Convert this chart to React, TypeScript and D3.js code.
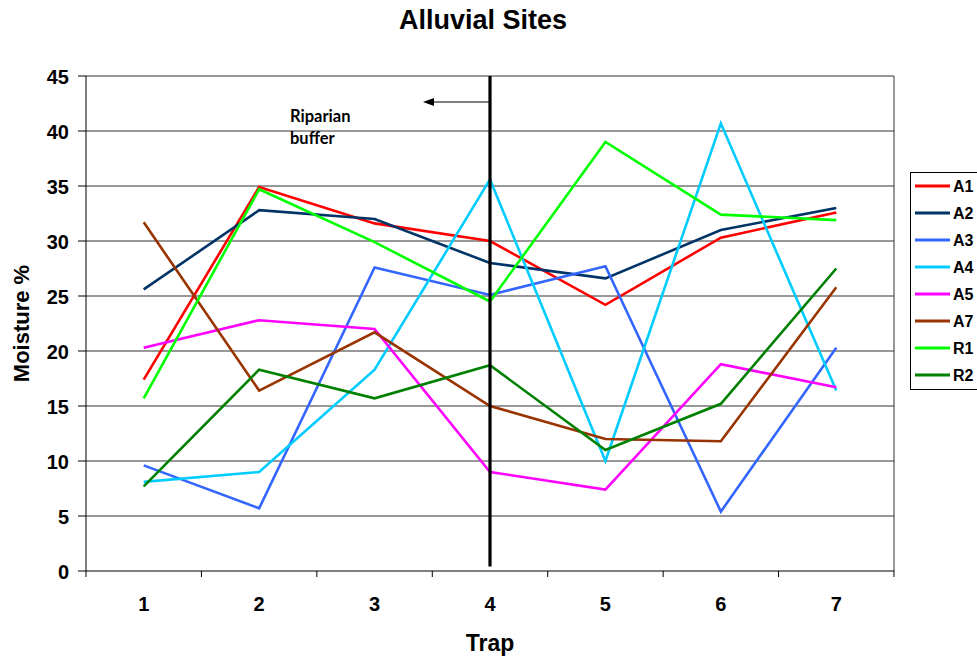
import React from "react";
import * as d3 from "d3";

// Trap positions along the transect
const traps = ["1", "2", "3", "4", "5", "6", "7"];

// Soil moisture (%) per site at each trap
const seriesNames = ["A1", "A2", "A3", "A4", "A5", "A7", "R1", "R2"];
const A1 = [17.4, 34.9, 31.6, 30.0, 24.2, 30.3, 32.6];
const A2 = [25.6, 32.8, 32.0, 28.0, 26.6, 31.0, 33.0];
const A3 = [9.6, 5.7, 27.6, 25.1, 27.7, 5.4, 20.3];
const A4 = [8.1, 9.0, 18.3, 35.6, 10.0, 40.7, 16.4];
const A5 = [20.3, 22.8, 22.0, 9.0, 7.4, 18.8, 16.7];
const A7 = [31.7, 16.4, 21.7, 15.0, 12.0, 11.8, 25.8];
const R1 = [15.7, 34.7, 29.9, 24.5, 39.0, 32.4, 31.9];
const R2 = [7.7, 18.3, 15.7, 18.7, 11.0, 15.2, 27.5];
const seriesValues = [A1, A2, A3, A4, A5, A7, R1, R2];
const seriesColors = ["#FF0000", "#003366", "#3366FF", "#00CCFF", "#FF00FF", "#993300", "#00FF00", "#008000"];

// Y axis ticks
const yTicks = [0, 5, 10, 15, 20, 25, 30, 35, 40, 45];

// Riparian buffer boundary marker (trap, from, to)
const bufferTrap = "4";
const bufferRange = [0.4, 45];

const W = 977;
const H = 658;
const margin = { left: 86, right: 83, top: 76, bottom: 87 };

export default function App() {
  const x = d3
    .scaleBand<string>()
    .domain(traps)
    .range([margin.left, W - margin.right])
    .paddingInner(0)
    .paddingOuter(0);
  const y = d3.scaleLinear().domain([0, 45]).range([H - margin.bottom, margin.top]);
  const cx = (t: string) => (x(t) as number) + x.bandwidth() / 2;

  const line = d3
    .line<number>()
    .x((_, i) => cx(traps[i]))
    .y((d) => y(d));

  const font = "'Liberation Sans', Arial, sans-serif";
  const noteFont = "Lato, 'Open Sans', sans-serif";
  const x0 = margin.left;
  const x1 = W - margin.right;
  const yBase = y(0);

  const bx = cx(bufferTrap);
  const arrowY = 102;
  const arrowTip = 423;

  const legendX = 910;
  const legendY = 172;
  const legendRow = 27;

  return (
    <svg
      width={W}
      height={H}
      style={{ position: "absolute", left: 0, top: 0, background: "#fff" }}
      fontFamily={font}
    >
      <rect x={0} y={0} width={W} height={H} fill="#fff" />
      {/* title */}
      <text x={483} y={29} textAnchor="middle" fontSize={27} fontWeight="bold">
        Alluvial Sites
      </text>

      {/* gridlines */}
      {yTicks
        .filter((t) => t > 0)
        .map((t) => (
          <line key={t} x1={x0} x2={x1} y1={y(t)} y2={y(t)} stroke="#333" strokeWidth={1} />
        ))}
      {/* right border */}
      <line x1={x1} x2={x1} y1={y(45)} y2={yBase} stroke="#333" strokeWidth={1} />

      {/* axes */}
      <line x1={x0} x2={x0} y1={y(45)} y2={yBase} stroke="#000" strokeWidth={1} />
      <line x1={x0} x2={x1} y1={yBase} y2={yBase} stroke="#000" strokeWidth={1} />
      {yTicks.map((t) => (
        <g key={t}>
          <line x1={x0 - 8} x2={x0} y1={y(t)} y2={y(t)} stroke="#000" />
          <text x={x0 - 17} y={y(t) + 7.5} textAnchor="end" fontSize={20} fontWeight="bold">
            {t}
          </text>
        </g>
      ))}
      {traps.map((t) => (
        <line key={"tk" + t} x1={x(t)} x2={x(t)} y1={yBase} y2={yBase + 6} stroke="#000" />
      ))}
      <line x1={x1} x2={x1} y1={yBase} y2={yBase + 6} stroke="#000" />
      {traps.map((t) => (
        <text key={"lb" + t} x={cx(t)} y={yBase + 40} textAnchor="middle" fontSize={20} fontWeight="bold">
          {t}
        </text>
      ))}

      {/* axis titles */}
      <text x={490} y={651} textAnchor="middle" fontSize={23} fontWeight="bold">
        Trap
      </text>
      <text
        transform={`translate(29, ${(y(45) + yBase) / 2}) rotate(-90)`}
        textAnchor="middle"
        fontSize={22}
        fontWeight="bold"
      >
        Moisture %
      </text>

      {/* series */}
      {seriesValues.map((vals, i) => (
        <path
          key={seriesNames[i]}
          d={line(vals) || ""}
          fill="none"
          stroke={seriesColors[i]}
          strokeWidth={2.6}
          strokeLinejoin="miter"
        />
      ))}

      {/* riparian buffer marker */}
      <line x1={bx} x2={bx} y1={y(bufferRange[1])} y2={y(bufferRange[0])} stroke="#000" strokeWidth={3.2} />
      <line x1={bx} x2={arrowTip + 8} y1={arrowY} y2={arrowY} stroke="#000" strokeWidth={1} />
      <path
        d={`M${arrowTip},${arrowY} L${arrowTip + 11},${arrowY - 4} L${arrowTip + 11},${arrowY + 4} Z`}
        fill="#000"
      />
      <text x={290} y={122} fontSize={16.5} fontWeight="bold" fontFamily={noteFont}>
        Riparian
      </text>
      <text x={290} y={144} fontSize={16.5} fontWeight="bold" fontFamily={noteFont}>
        buffer
      </text>

      {/* legend */}
      <rect
        x={legendX + 0.5}
        y={legendY + 0.5}
        width={W - legendX + 10}
        height={legendRow * 8 + 1}
        fill="#fff"
        stroke="#000"
        strokeWidth={1}
      />
      {seriesNames.map((n, i) => {
        const ly = legendY + 14 + i * legendRow;
        return (
          <g key={"lg" + n}>
            <line x1={legendX + 5} x2={legendX + 40} y1={ly} y2={ly} stroke={seriesColors[i]} strokeWidth={3} />
            <text x={legendX + 43} y={ly + 6} fontSize={16} fontWeight="bold">
              {n}
            </text>
          </g>
        );
      })}
    </svg>
  );
}
